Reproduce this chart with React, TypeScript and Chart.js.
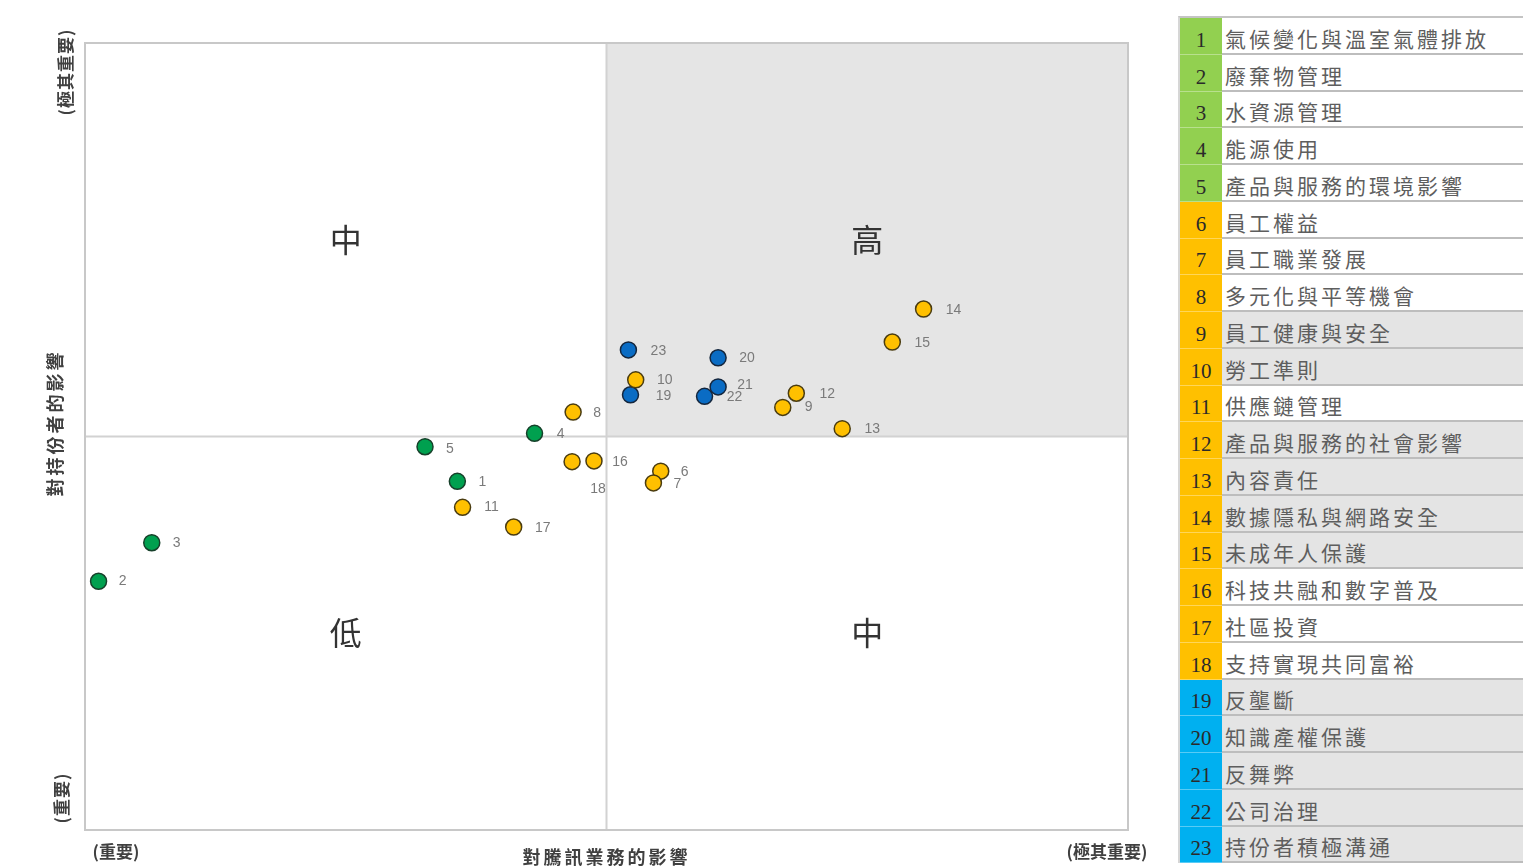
import React, { useEffect, useRef } from "react";
import { Chart, registerables } from "chart.js";

Chart.register(...registerables);

// ---------- data ----------
const topicIds = [1, 2, 3, 4, 5, 6, 7, 8, 9, 10, 11, 12, 13, 14, 15, 16, 17, 18, 19, 20, 21, 22, 23];
const topicNames = [
  "氣候變化與溫室氣體排放",
  "廢棄物管理",
  "水資源管理",
  "能源使用",
  "產品與服務的環境影響",
  "員工權益",
  "員工職業發展",
  "多元化與平等機會",
  "員工健康與安全",
  "勞工準則",
  "供應鏈管理",
  "產品與服務的社會影響",
  "內容責任",
  "數據隱私與網路安全",
  "未成年人保護",
  "科技共融和數字普及",
  "社區投資",
  "支持實現共同富裕",
  "反壟斷",
  "知識產權保護",
  "反舞弊",
  "公司治理",
  "持份者積極溝通",
];
// x: 對騰訊業務的影響, y: 對持份者的影響 (0..10 scale)
const businessImpact = [3.57, 0.13, 0.64, 4.31, 3.26, 5.52, 5.45, 4.68, 6.69, 5.28, 3.62, 6.82, 7.26, 8.04, 7.74, 4.88, 4.11, 4.67, 5.23, 6.07, 6.07, 5.94, 5.21];
const stakeholderImpact = [4.43, 3.16, 3.65, 5.04, 4.87, 4.56, 4.41, 5.31, 5.37, 5.72, 4.1, 5.55, 5.1, 6.62, 6.2, 4.69, 3.85, 4.68, 5.53, 6.0, 5.63, 5.51, 6.1];
const environmentIds = [1, 2, 3, 4, 5];
const socialIds = [6, 7, 8, 9, 10, 11, 12, 13, 14, 15, 16, 17, 18];
const governanceIds = [19, 20, 21, 22, 23];
const grayRowIds = [9, 10, 12, 13, 14, 15, 19, 20, 21, 22, 23];
const axisMin = 0;
const axisMax = 10;
const axisMid = 5;
const quadrantTexts = { topLeft: "中", topRight: "高", bottomLeft: "低", bottomRight: "中" };
const xTitle = "對騰訊業務的影響";
const yTitle = "對持份者的影響";
const lowLabel = "(重要)";
const highLabel = "(極其重要)";

// ---------- styles ----------
const envColor = "#00a04f";
const socialColor = "#ffc000";
const govColor = "#0a6cc4";
const tableEnv = "#92d050";
const tableSocial = "#ffc000";
const tableGov = "#00b0f0";
// label offset from point centre, px [dx, dy]
const labelOffsets: [number, number][] = [
  [25, 1], [24, 0], [25, 0], [26, 1], [25, 2], [24, 1], [24, 1], [24, 1], [26, 0], [29, 0],
  [29, 0], [31, 1], [30, 1], [30, 1], [30, 1], [26, 1], [29, 1], [26, 27], [33, 1], [29, 0],
  [27, -2], [30, 1], [30, 1],
];

const CJK = "'Noto Sans CJK TC', 'Noto Sans CJK SC', sans-serif";

function pointsFor(ids: number[]) {
  return ids.map((id) => ({ x: businessImpact[id - 1], y: stakeholderImpact[id - 1], id }));
}

const decorPlugin = {
  id: "decor",
  beforeDatasetsDraw(chart: any) {
    const { ctx, chartArea } = chart;
    const xs = chart.scales.x;
    const ys = chart.scales.y;
    const mx = xs.getPixelForValue(axisMid);
    const my = ys.getPixelForValue(axisMid);
    ctx.save();
    ctx.fillStyle = "#e5e5e5";
    ctx.fillRect(mx, chartArea.top, chartArea.right - mx, my - chartArea.top);
    ctx.strokeStyle = "#d2d2d2";
    ctx.lineWidth = 2;
    ctx.beginPath();
    ctx.moveTo(mx, chartArea.top);
    ctx.lineTo(mx, chartArea.bottom);
    ctx.moveTo(chartArea.left, my);
    ctx.lineTo(chartArea.right, my);
    ctx.stroke();
    ctx.strokeStyle = "#c8c8c8";
    ctx.lineWidth = 2;
    ctx.strokeRect(chartArea.left, chartArea.top, chartArea.right - chartArea.left, chartArea.bottom - chartArea.top);

    ctx.fillStyle = "#333333";
    ctx.font = `32px ${CJK}`;
    ctx.textAlign = "center";
    ctx.textBaseline = "middle";
    const q1 = xs.getPixelForValue(2.5);
    const q3 = xs.getPixelForValue(7.5);
    const r1 = ys.getPixelForValue(7.5);
    const r3 = ys.getPixelForValue(2.5);
    ctx.fillText(quadrantTexts.topLeft, q1, r1);
    ctx.fillText(quadrantTexts.topRight, q3, r1);
    ctx.fillText(quadrantTexts.bottomLeft, q1, r3);
    ctx.fillText(quadrantTexts.bottomRight, q3, r3);

    // axis titles
    ctx.fillStyle = "#404040";
    ctx.font = `bold 18px ${CJK}`;
    (ctx as any).letterSpacing = "3px";
    ctx.fillText(xTitle, (chartArea.left + chartArea.right) / 2, 857);
    (ctx as any).letterSpacing = "0px";
    ctx.font = `bold 17px ${CJK}`;
    ctx.fillText(lowLabel, 116, 852);
    ctx.fillText(highLabel, 1107, 852);

    const vtext = (t: string, x: number, y: number, spacing: number) => {
      ctx.save();
      ctx.translate(x, y);
      ctx.rotate(-Math.PI / 2);
      (ctx as any).letterSpacing = spacing + "px";
      ctx.fillText(t, 0, 0);
      ctx.restore();
    };
    ctx.font = `bold 18px ${CJK}`;
    vtext(yTitle, 55, 423, 3);
    ctx.font = `bold 17px ${CJK}`;
    vtext(highLabel, 66, 72, 1);
    vtext(lowLabel, 62, 798, 1);
    ctx.restore();
  },
  afterDatasetsDraw(chart: any) {
    const { ctx } = chart;
    const xs = chart.scales.x;
    const ys = chart.scales.y;
    ctx.save();
    ctx.fillStyle = "#7a7a7a";
    ctx.font = "14px 'Liberation Sans', Arial, sans-serif";
    ctx.textAlign = "center";
    ctx.textBaseline = "middle";
    topicIds.forEach((id, i) => {
      const px = xs.getPixelForValue(businessImpact[i]);
      const py = ys.getPixelForValue(stakeholderImpact[i]);
      const [dx, dy] = labelOffsets[i];
      ctx.fillText(String(id), px + dx, py + dy);
    });
    ctx.restore();
  },
};

function ScatterChart() {
  const ref = useRef<HTMLCanvasElement | null>(null);
  useEffect(() => {
    if (!ref.current) return;
    const common = { pointRadius: 8, pointHoverRadius: 8, borderWidth: 1.5, showLine: false };
    const chart = new Chart(ref.current, {
      type: "scatter",
      data: {
        datasets: [
          { label: "環境", data: pointsFor(environmentIds), backgroundColor: envColor, borderColor: "#16402a", ...common },
          { label: "社會", data: pointsFor(socialIds), backgroundColor: socialColor, borderColor: "#4a3c10", ...common },
          { label: "管治", data: pointsFor(governanceIds), backgroundColor: govColor, borderColor: "#14263d", ...common },
        ],
      },
      options: {
        responsive: false,
        animation: false,
        clip: false,
        layout: { padding: { left: 85, right: 47, top: 43, bottom: 37 } },
        plugins: { legend: { display: false }, tooltip: { enabled: false } },
        scales: {
          x: { type: "linear", min: axisMin, max: axisMax, display: false },
          y: { type: "linear", min: axisMin, max: axisMax, display: false },
        },
      } as any,
      plugins: [decorPlugin],
    });
    return () => chart.destroy();
  }, []);
  return (
    <canvas
      ref={ref}
      width={1175}
      height={867}
      style={{ position: "absolute", left: 0, top: 0, width: 1175, height: 867 }}
    />
  );
}

function colorFor(id: number) {
  if (environmentIds.includes(id)) return tableEnv;
  if (socialIds.includes(id)) return tableSocial;
  return tableGov;
}

function TopicTable() {
  const rowH = 36.75;
  return (
    <div
      style={{
        position: "absolute",
        left: 1178,
        top: 16,
        width: 345,
        borderTop: "2px solid #c4c4c4",
        borderLeft: "2px solid #d6d6d6",
      }}
    >
      {topicIds.map((id, i) => (
        <div key={id} style={{ display: "flex", height: rowH, boxSizing: "border-box" }}>
          <div
            style={{
              width: 42,
              background: colorFor(id),
              display: "flex",
              alignItems: "flex-end",
              justifyContent: "center",
              paddingBottom: 2,
              boxSizing: "border-box",
              fontFamily: "'Liberation Serif', serif",
              fontSize: 21,
              color: "#2a2a2a",
              borderBottom: "1px solid rgba(255,255,255,0.35)",
              lineHeight: "24px",
            }}
          >
            {id}
          </div>
          <div
            style={{
              flex: 1,
              background: grayRowIds.includes(id) ? "#e4e4e4" : "#ffffff",
              borderBottom: "2px solid #bdbdbd",
              display: "flex",
              alignItems: "flex-end",
              paddingLeft: 3,
              paddingBottom: 1,
              boxSizing: "border-box",
              fontFamily: CJK,
              fontSize: 21,
              letterSpacing: 3,
              color: "#5e5e5e",
              lineHeight: "28px",
              whiteSpace: "nowrap",
              overflow: "hidden",
            }}
          >
            {topicNames[i]}
          </div>
        </div>
      ))}
    </div>
  );
}

export default function App() {
  return (
    <div style={{ position: "absolute", left: 0, top: 0, width: 1523, height: 867, background: "#ffffff", overflow: "hidden" }}>
      <ScatterChart />
      <TopicTable />
    </div>
  );
}
